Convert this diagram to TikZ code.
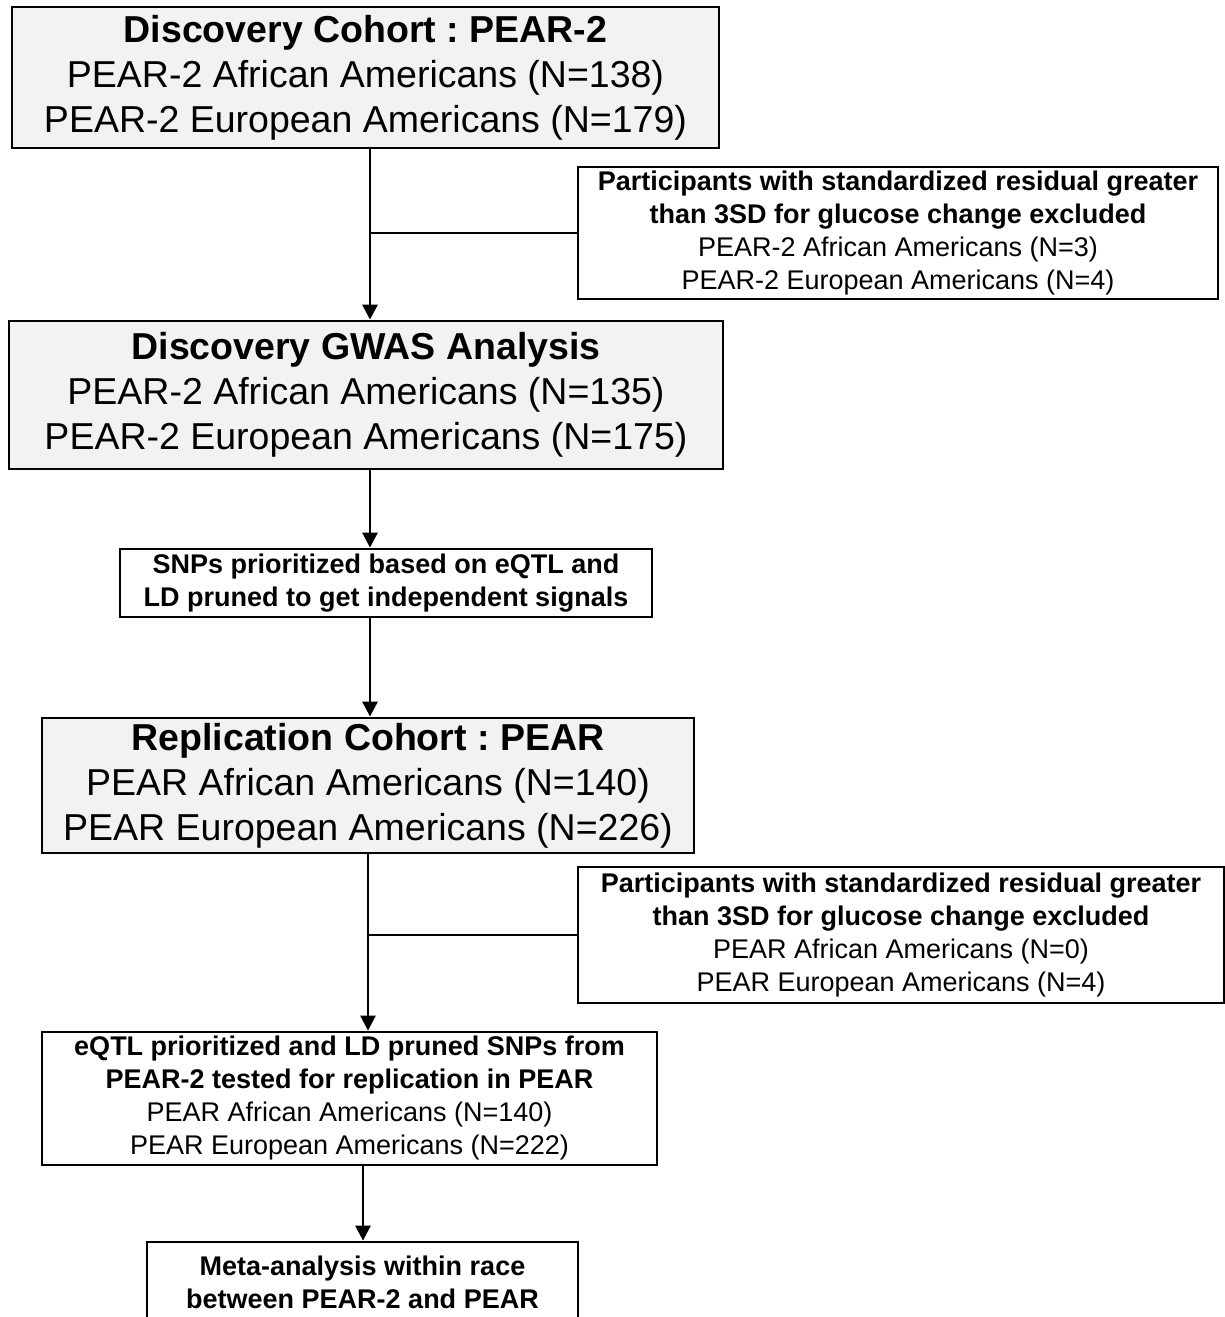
\documentclass[tikz,border=0pt]{standalone}
\usepackage{fontspec}
\setmainfont{Liberation Sans}
\frenchspacing
\usetikzlibrary{arrows.meta}
\newcommand{\bigtxt}{\fontsize{18.75}{22.5}\selectfont}
\newcommand{\smalltxt}{\fontsize{13.5}{16.5}\selectfont}
\begin{document}
\begin{tikzpicture}[x=0.5pt,y=-0.5pt,
    bigbox/.style={draw, line width=1.4pt, fill=boxgray, align=center, inner sep=0pt, font=\bigtxt},
    smallbox/.style={draw, line width=1.4pt, fill=white, align=center, inner sep=0pt, font=\smalltxt},
    arr/.style={line width=1.4pt, -{Triangle[length=7.5pt,width=7.5pt]}},
    link/.style={line width=1.4pt}]
            \definecolor{boxgray}{HTML}{F2F2F2}
            \useasboundingbox[fill=white] (0,0) rectangle (1225,1317);
            % main column
            \node[bigbox, minimum width=353.5pt, minimum height=70.5pt] (disc) at (365.5,77.5)
                {\textbf{Discovery Cohort : PEAR-2}\\PEAR-2 African Americans (N=138)\\PEAR-2 European Americans (N=179)};
            \node[bigbox, minimum width=357pt, minimum height=74pt] (gwas) at (366,395)
                {\textbf{Discovery GWAS Analysis}\\PEAR-2 African Americans (N=135)\\PEAR-2 European Americans (N=175)};
            \node[smallbox, minimum width=266pt, minimum height=34pt] (snps) at (386,583)
                {\textbf{SNPs prioritized based on eQTL and}\\\textbf{LD pruned to get independent signals}};
            \node[bigbox, minimum width=326pt, minimum height=67.5pt] (repl) at (368,785.5)
                {\textbf{Replication Cohort : PEAR}\\PEAR African Americans (N=140)\\PEAR European Americans (N=226)};
            \node[smallbox, minimum width=307.5pt, minimum height=66.5pt] (test) at (349.5,1098.5)
                {\textbf{eQTL prioritized and LD pruned SNPs from}\\\textbf{PEAR-2 tested for replication in PEAR}\\PEAR African Americans (N=140)\\PEAR European Americans (N=222)};
            \node[smallbox, minimum width=215.5pt, minimum height=40pt] (meta) at (362.5,1282)
                {\textbf{Meta-analysis within race}\\\textbf{between PEAR-2 and PEAR}};
            % exclusion boxes
            \node[smallbox, minimum width=320pt, minimum height=66pt] (excla) at (898,233)
                {\textbf{Participants with standardized residual greater}\\\textbf{than 3SD for glucose change excluded}\\PEAR-2 African Americans (N=3)\\PEAR-2 European Americans (N=4)};
            \node[smallbox, minimum width=323pt, minimum height=68pt] (exclb) at (901,935)
                {\textbf{Participants with standardized residual greater}\\\textbf{than 3SD for glucose change excluded}\\PEAR African Americans (N=0)\\PEAR European Americans (N=4)};
            % spines
            \coordinate (sa) at (370,0);
            \coordinate (sb) at (368,0);
            \coordinate (sc) at (363,0);
            \draw[arr] (disc.south -| sa) -- (gwas.north -| sa);
            \draw[link] (excla.west) -- (excla.west -| sa);
            \draw[arr] (gwas.south -| sa) -- (snps.north -| sa);
            \draw[arr] (snps.south -| sa) -- (repl.north -| sa);
            \draw[arr] (repl.south -| sb) -- (test.north -| sb);
            \draw[link] (exclb.west) -- (exclb.west -| sb);
            \draw[arr] (test.south -| sc) -- (meta.north -| sc);
        \end{tikzpicture}
\end{document}
